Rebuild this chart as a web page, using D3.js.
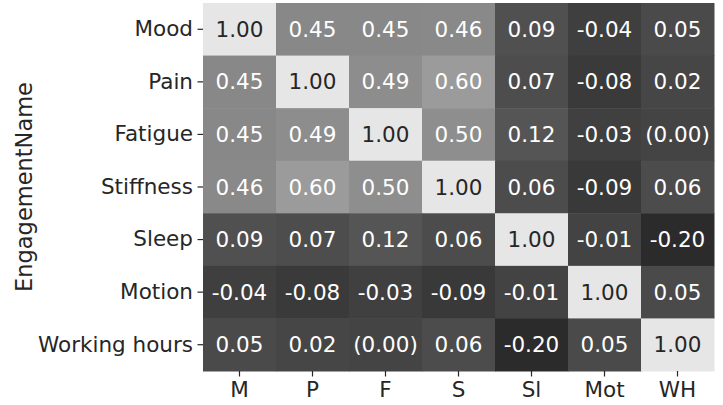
<!DOCTYPE html>
<html>
<head>
<meta charset="utf-8">
<script src="https://cdn.jsdelivr.net/npm/d3@7"></script>
<style>
  html, body { margin: 0; padding: 0; background: #ffffff; }
  svg { display: block; font-family: "DejaVu Sans", sans-serif; }
</style>
</head>
<body>
<svg id="chart" width="723" height="405"></svg>
<script>
const rowLabels = ["Mood", "Pain", "Fatigue", "Stiffness", "Sleep", "Motion", "Working hours"];
const colLabels = ["M", "P", "F", "S", "Sl", "Mot", "WH"];
const yAxisTitle = "EngagementName";

const rowMood      = [1.00, 0.45, 0.45, 0.46, 0.09, -0.04, 0.05];
const rowPain      = [0.45, 1.00, 0.49, 0.60, 0.07, -0.08, 0.02];
const rowFatigue   = [0.45, 0.49, 1.00, 0.50, 0.12, -0.03, -0.001];
const rowStiffness = [0.46, 0.60, 0.50, 1.00, 0.06, -0.09, 0.06];
const rowSleep     = [0.09, 0.07, 0.12, 0.06, 1.00, -0.01, -0.20];
const rowMotion    = [-0.04, -0.08, -0.03, -0.09, -0.01, 1.00, 0.05];
const rowWorking   = [0.05, 0.02, -0.001, 0.06, -0.20, 0.05, 1.00];
const matrix = [rowMood, rowPain, rowFatigue, rowStiffness, rowSleep, rowMotion, rowWorking];

(function () {
const cells = [];
matrix.forEach((row, i) => row.forEach((v, j) => cells.push({ r: rowLabels[i], c: colLabels[j], v })));

const svg = d3.select("#chart");
const mLeft = 203, mRight = 714, mTop = 3, mBottom = 371;
const fs = 21.5;

const x = d3.scaleBand().domain(colLabels).range([mLeft, mRight]);
const y = d3.scaleBand().domain(rowLabels).range([mTop, mBottom]);

const grayLevel = d3.scaleLinear()
  .domain([-0.2, 0.05, 0.45, 0.6, 1.0])
  .range([43, 74, 136, 155, 230])
  .clamp(true);
const color = v => { const g = Math.round(grayLevel(v)); return `rgb(${g},${g},${g})`; };

const fmt = v => {
  const s = v.toFixed(2);
  return s === "-0.00" ? "(0.00)" : s;
};

svg.append("g").selectAll("rect").data(cells).join("rect")
  .attr("x", d => x(d.c))
  .attr("y", d => y(d.r))
  .attr("width", x.bandwidth() + 0.5)
  .attr("height", y.bandwidth() + 0.5)
  .attr("fill", d => color(d.v));

svg.append("g").selectAll("text").data(cells).join("text")
  .attr("x", d => x(d.c) + x.bandwidth() / 2)
  .attr("y", d => y(d.r) + y.bandwidth() / 2)
  .attr("text-anchor", "middle")
  .attr("dominant-baseline", "central")
  .attr("font-size", fs)
  .attr("fill", d => grayLevel(d.v) > 180 ? "#262626" : "#ffffff")
  .text(d => fmt(d.v));

const xAxis = svg.append("g")
  .attr("transform", `translate(0,${mBottom})`)
  .call(d3.axisBottom(x).tickSize(5.5).tickPadding(5));
const yAxis = svg.append("g")
  .attr("transform", `translate(${mLeft},0)`)
  .call(d3.axisLeft(y).tickSize(5.5).tickPadding(4.5));

[xAxis, yAxis].forEach(ax => {
  ax.select(".domain").remove();
  ax.selectAll(".tick line").attr("stroke", "#262626").attr("stroke-width", 1.2);
  ax.selectAll(".tick text")
    .attr("fill", "#262626")
    .attr("font-size", fs)
    .attr("font-family", "DejaVu Sans, sans-serif");
});

svg.append("text")
  .attr("transform", `translate(32,${(mTop + mBottom) / 2}) rotate(-90)`)
  .attr("text-anchor", "middle")
  .attr("font-size", 22.5)
  .attr("fill", "#262626")
  .text(yAxisTitle);
})();
</script>
</body>
</html>
